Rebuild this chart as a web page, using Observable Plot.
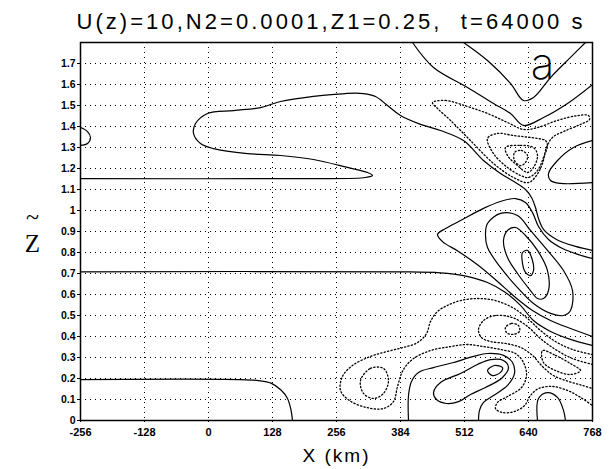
<!DOCTYPE html>
<html><head><meta charset="utf-8">
<script src="https://cdn.jsdelivr.net/npm/d3@7"></script>
<script src="https://cdn.jsdelivr.net/npm/@observablehq/plot@0.6"></script>
<style>body{margin:0;background:#fff}</style>
</head><body><div id="chart"></div>
<script>
const titleText = "U(z)=10,N2=0.0001,Z1=0.25,  t=64000 s";
const xTicks = [-256,-128,0,128,256,384,512,640,768];
const yTicks = [0,0.1,0.2,0.3,0.4,0.5,0.6,0.7,0.8,0.9,1,1.1,1.2,1.3,1.4,1.5,1.6,1.7];
const xGrid = [-128,0,128,256,384,512,640];
const yGrid = [0.1,0.2,0.3,0.4,0.5,0.6,0.7,0.8,0.9,1,1.1,1.2,1.3,1.4,1.5,1.6,1.7];

// Solid contours (X km, Z~)
const lowZero = [[-256,0.195],[60,0.195],[100,0.19],[125,0.178],[145,0.145],[158,0.105],[165,0.05],[168,0]];
const midZero = [[-256,0.708],[384,0.708],[464,0.703],[510,0.69],[558,0.657],[594,0.61],[624,0.548],[650,0.476],[684,0.424],[724,0.386],[768,0.357]];
const upperZero = [[-256,1.152],[184,1.152],[314,1.157],[328,1.167],[318,1.181],[278,1.205],[210,1.243],[144,1.262],[78,1.271],[10,1.295],[-16,1.319],[-30,1.367],[-26,1.414],[-2,1.462],[50,1.476],[104,1.49],[144,1.519],[210,1.543],[274,1.557],[310,1.557],[334,1.543],[358,1.5],[384,1.452],[424,1.41],[464,1.381],[510,1.333],[550,1.238],[584,1.176],[614,1.133],[634,1.1],[646,1.062],[654,1.014],[660,0.962],[670,0.91],[696,0.862],[734,0.829],[768,0.81]];
const lineA = [[408,1.8],[450,1.681],[518,1.586],[570,1.51],[604,1.462],[630,1.405],[670,1.443],[718,1.51],[768,1.6]];
const lineB = [[510,1.8],[558,1.714],[604,1.605],[630,1.524],[650,1.538],[684,1.633],[724,1.729],[754,1.8]];
const rightLobe = [[768,1.333],[730,1.3],[698,1.238],[680,1.176],[684,1.143],[704,1.129],[768,1.133]];
const leftBump = [[-256,1.395],[-242,1.376],[-236,1.348],[-242,1.319],[-256,1.31]];
const outerMid = [[768,0.771],[740,0.79],[708,0.819],[680,0.862],[660,0.924],[648,0.99],[634,1.038],[614,1.057],[584,1.043],[550,1.01],[504,0.952],[474,0.914],[458,0.886],[468,0.852],[500,0.805],[540,0.738],[578,0.662],[614,0.586],[648,0.524],[684,0.476],[724,0.438],[768,0.4]];
const lowBand = [[400,0],[400,0.119],[406,0.186],[420,0.229],[450,0.252],[490,0.276],[530,0.305],[558,0.319],[590,0.31],[608,0.276],[612,0.224],[598,0.167],[570,0.119],[550,0.086],[542,0.048],[540,0]];
const hump = [[658,0],[660,0.105],[678,0.133],[698,0.11],[710,0.048],[714,0]];
// closed solid
const e1 = [[628,0.8],[638,0.81],[648,0.762],[650,0.714],[644,0.69],[634,0.705],[628,0.748]];
const e2 = [[598,0.905],[614,0.919],[634,0.881],[658,0.81],[678,0.714],[680,0.619],[670,0.581],[658,0.581],[644,0.619],[618,0.7],[598,0.776],[590,0.857]];
const e3 = [[558,0.938],[584,0.986],[618,0.976],[644,0.905],[678,0.81],[710,0.714],[728,0.619],[724,0.524],[710,0.5],[684,0.51],[650,0.557],[618,0.633],[584,0.729],[558,0.824],[554,0.89]];
const l2 = [[450,0.133],[464,0.181],[504,0.224],[538,0.267],[564,0.29],[590,0.286],[600,0.252],[588,0.205],[554,0.157],[524,0.124],[500,0.09],[476,0.081],[456,0.1]];
const l3 = [[558,0.238],[572,0.262],[588,0.252],[584,0.229],[568,0.214]];
// dotted closed
const d1 = [[448,1.514],[474,1.524],[518,1.495],[558,1.462],[598,1.419],[630,1.386],[658,1.395],[698,1.429],[738,1.452],[760,1.452],[762,1.433],[744,1.41],[710,1.376],[688,1.348],[676,1.3],[668,1.224],[656,1.167],[640,1.133],[610,1.157],[570,1.224],[524,1.333],[484,1.429],[458,1.486]];
const d2 = [[558,1.343],[578,1.367],[610,1.357],[658,1.343],[674,1.333],[678,1.31],[670,1.252],[658,1.19],[640,1.157],[624,1.167],[598,1.205],[570,1.271]];
const d3 = [[594,1.3],[624,1.31],[650,1.3],[658,1.262],[650,1.205],[638,1.181],[618,1.214],[598,1.262]];
const d4 = [[612,1.276],[626,1.286],[638,1.262],[634,1.229],[624,1.214],[612,1.238]];
const d7 = [[594,0.443],[606,0.462],[620,0.452],[622,0.424],[608,0.41],[596,0.419]];
const d8 = [[668,0.333],[694,0.31],[724,0.271],[744,0.238],[724,0.219],[694,0.238],[670,0.276]];
const dLoop = [[304,0.19],[324,0.248],[350,0.248],[360,0.19],[350,0.129],[330,0.105],[310,0.129]];
// dotted open
const d5 = [[768,0.314],[728,0.338],[694,0.376],[664,0.429],[638,0.486],[608,0.538],[574,0.571],[540,0.581],[504,0.571],[478,0.548],[458,0.519],[444,0.471],[436,0.414],[418,0.371],[390,0.348],[358,0.329],[324,0.305],[288,0.262],[268,0.21],[264,0.143],[282,0.095],[316,0.062],[350,0.057],[370,0.09],[378,0.162],[390,0.243],[410,0.295],[444,0.333],[484,0.352],[516,0.362],[550,0.352],[584,0.338],[614,0.319],[630,0.276],[636,0.214],[626,0.157],[598,0.114],[578,0.086],[574,0.057],[588,0.038],[612,0.043],[632,0.071],[644,0.119],[660,0.152],[688,0.162],[718,0.143],[744,0.11],[768,0.071]];
const d6 = [[768,0.267],[728,0.295],[694,0.338],[664,0.39],[638,0.448],[608,0.49],[574,0.5],[550,0.476],[540,0.433],[546,0.395],[564,0.376],[594,0.367],[624,0.348],[648,0.31],[668,0.257],[690,0.214],[720,0.186],[748,0.167],[768,0.152]];

const contours = [
  ["lowZero", lowZero, "solid", false], ["midZero", midZero, "solid", false], ["upperZero", upperZero, "solid", false],
  ["lineA", lineA, "solid", false], ["lineB", lineB, "solid", false], ["rightLobe", rightLobe, "solid", false],
  ["leftBump", leftBump, "solid", false], ["outerMid", outerMid, "solid", false], ["lowBand", lowBand, "solid", false], ["hump", hump, "solid", false],
  ["e1", e1, "solid", true], ["e2", e2, "solid", true], ["e3", e3, "solid", true],
  ["l2", l2, "solid", true], ["l3", l3, "solid", true],
  ["d1", d1, "dot", true], ["d2", d2, "dot", true], ["d3", d3, "dot", true], ["d4", d4, "dot", true],
  ["d7", d7, "dot", true], ["d8", d8, "dot", true], ["dLoop", dLoop, "dot", true],
  ["d5", d5, "dot", false], ["d6", d6, "dot", false]
];
const rows = contours.flatMap(([id, pts, style, closed]) => pts.map(([x, z]) => ({id, x, z, style, closed})));
const pick = (s, c) => rows.filter(r => r.style === s && r.closed === c);
const solidOpt = {x: "x", y: "z", z: "id", stroke: "black", strokeWidth: 1.2, clip: true};
const dotOpt = {x: "x", y: "z", z: "id", stroke: "black", strokeWidth: 1.3, strokeDasharray: "1.3,2.2", clip: true};

const fmtY = d => d === 0 ? "0" : d === 1 ? "1" : d.toFixed(1);

const chart = Plot.plot({
  width: 609, height: 469,
  marginLeft: 80, marginRight: 17, marginTop: 42, marginBottom: 49,
  style: {fontFamily: "Liberation Sans, Arial, sans-serif", fontSize: "11px", fontWeight: "bold", background: "white"},
  x: {domain: [-256, 768]},
  y: {domain: [0, 1.8]},
  marks: [
    Plot.ruleX(xGrid, {stroke: "black", strokeDasharray: "1,4", strokeWidth: 1}),
    Plot.ruleY(yGrid, {stroke: "black", strokeDasharray: "1,4", strokeWidth: 1}),
    Plot.line(pick("solid", false), {...solidOpt, curve: "catmull-rom"}),
    Plot.line(pick("solid", true), {...solidOpt, curve: "catmull-rom-closed"}),
    Plot.line(pick("dot", false), {...dotOpt, curve: "catmull-rom"}),
    Plot.line(pick("dot", true), {...dotOpt, curve: "catmull-rom-closed"}),
    Plot.frame({stroke: "black", strokeWidth: 1.5}),
    Plot.axisX({ticks: xTicks, tickFormat: d => String(d), tickSize: 2, tickPadding: 6, label: null, fontSize: 11}),
    Plot.axisY({ticks: yTicks, tickFormat: fmtY, tickSize: 3, tickPadding: 2, label: null, fontSize: 10.5}),
    Plot.text([titleText], {frameAnchor: "top-left", textAnchor: "start", lineAnchor: "middle", dx: -4, dy: -21, fontSize: 22, fontWeight: "normal"}),
    Plot.text(["X (km)"], {frameAnchor: "bottom", lineAnchor: "middle", dy: 35, fontSize: 19, fontWeight: "normal"}),
    Plot.text(["Z"], {frameAnchor: "left", textAnchor: "middle", lineAnchor: "middle", dx: -48, dy: 12, fontSize: 25, fontWeight: "normal", fontFamily: "Liberation Serif, DejaVu Serif, serif"}),
    Plot.text(["~"], {frameAnchor: "left", textAnchor: "middle", lineAnchor: "middle", dx: -48, dy: -14, fontSize: 24, fontWeight: "normal", fontFamily: "Liberation Serif, DejaVu Serif, serif"}),
    Plot.text(["a"], {frameAnchor: "top-right", textAnchor: "middle", lineAnchor: "middle", dx: -50, dy: 22, fontSize: 44, fontWeight: 200, fontFamily: "Inter, Liberation Sans, sans-serif"})
  ]
});
document.getElementById("chart").appendChild(chart);
for (const t of chart.querySelectorAll("text")) {
  if (t.textContent === titleText) { t.setAttribute("textLength", "506"); t.setAttribute("lengthAdjust", "spacing"); t.setAttribute("xml:space", "preserve"); }
  if (t.textContent === "X (km)") { t.setAttribute("letter-spacing", "2"); }
}
</script></body></html>
